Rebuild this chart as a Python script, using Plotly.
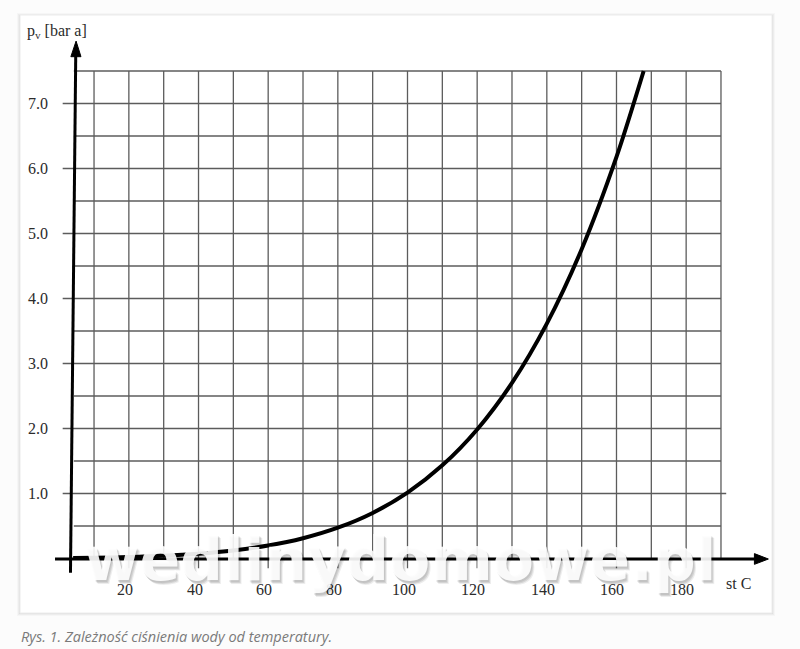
import plotly.graph_objects as go

# ---- data ----
temps = [4, 10, 20, 30, 40, 50, 60, 70, 80, 90, 100, 110, 120, 130, 140, 150, 160, 167.8]
pressure = [0.008, 0.012, 0.023, 0.042, 0.074, 0.123, 0.199, 0.312, 0.474, 0.701,
            1.013, 1.433, 1.985, 2.701, 3.613, 4.758, 6.178, 7.5]
x_tick_vals = [20, 40, 60, 80, 100, 120, 140, 160, 180]
x_tick_text = ["20", "40", "60", "80", "100", "120", "140", "160", "180"]
y_tick_vals = [1, 2, 3, 4, 5, 6, 7]
y_tick_text = ["1.0", "2.0", "3.0", "4.0", "5.0", "6.0", "7.0"]
grid_x = list(range(10, 200, 10))
grid_y = [i * 0.5 for i in range(1, 16)]
y_label = "p<sub>v</sub> [bar a]"
x_label = "st C"
watermark = "wedlinydomowe.pl"
caption = "Rys. 1. Zależność ciśnienia wody od temperatury."

# ---- layout geometry ----
W, H = 800, 649
ML, MR, MT, MB = 40, 25, 25, 51
XR = [-5.512, 205.51]
YR = [-0.6077, 8.2077]
PW, PH = W - ML - MR, H - MT - MB


def xp(px):
    return (px - ML) / PW


def yp(py):
    return (H - MB - py) / PH


GRID = "#5c5c5c"
FONT = "Liberation Serif"
TXT = "#2b2b2b"

fig = go.Figure()
fig.add_trace(go.Scatter(x=temps, y=pressure, mode="lines",
                         line=dict(color="black", width=4, shape="spline", smoothing=0.8),
                         hoverinfo="skip", showlegend=False))

shapes = []
# card with faint shadow
for d, c in [(3, "rgba(0,0,0,0.025)"), (2, "rgba(0,0,0,0.035)"), (1, "rgba(0,0,0,0.05)")]:
    shapes.append(dict(type="rect", xref="paper", yref="paper",
                       x0=xp(20 - d), x1=xp(772 + d), y0=yp(613 + d), y1=yp(15 - d + 1),
                       line=dict(width=0), fillcolor=c, layer="below"))
shapes.append(dict(type="rect", xref="paper", yref="paper",
                   x0=xp(20), x1=xp(772), y0=yp(613), y1=yp(15),
                   line=dict(width=1, color="#ececec"), fillcolor="white", layer="below"))

# horizontal grid
for v in grid_y:
    x0 = 1.0 if (abs(v - round(v)) < 1e-9 and 1 <= v <= 7) else 4.2
    x1 = 191.5 if v == 1 else 190
    shapes.append(dict(type="line", xref="x", yref="y", x0=x0, x1=x1, y0=v, y1=v,
                       line=dict(color=GRID, width=1.3), layer="below"))
# vertical grid
for t in grid_x:
    y0 = -0.15 if t in x_tick_vals else 0
    shapes.append(dict(type="line", xref="x", yref="y", x0=t, x1=t, y0=y0, y1=7.5,
                       line=dict(color=GRID, width=1.3), layer="below"))
# x axis with arrow
shapes.append(dict(type="line", xref="x", yref="y", x0=-1.2, x1=200.5, y0=-0.008, y1=-0.008,
                   line=dict(color="black", width=3)))
shapes.append(dict(type="path", xref="x", yref="y",
                   path="M 203.6,-0.008 L 199.6,0.075 L 199.6,-0.09 Z",
                   fillcolor="black", line=dict(color="black", width=1)))
# y axis with arrow (slightly slanted as in the scan)
shapes.append(dict(type="line", xref="x", yref="y", x0=3.24, x1=4.75, y0=-0.22, y1=7.75,
                   line=dict(color="black", width=3)))
shapes.append(dict(type="path", xref="x", yref="y",
                   path="M 4.85,7.96 L 3.35,7.72 L 6.25,7.72 Z",
                   fillcolor="black", line=dict(color="black", width=1)))

annotations = []
for v, t in zip(x_tick_vals, x_tick_text):
    annotations.append(dict(x=v, y=-0.48, xref="x", yref="y", text=t, showarrow=False,
                            xshift=-4, font=dict(family=FONT, size=16, color=TXT)))
for v, t in zip(y_tick_vals, y_tick_text):
    annotations.append(dict(x=-2.6, y=v, xref="x", yref="y", text=t, showarrow=False,
                            xanchor="right", font=dict(family=FONT, size=16, color=TXT)))
annotations.append(dict(x=xp(25), y=yp(31), xref="paper", yref="paper", text=y_label,
                        showarrow=False, xanchor="left", yanchor="middle",
                        font=dict(family=FONT, size=16, color=TXT)))
annotations.append(dict(x=xp(724), y=yp(583), xref="paper", yref="paper", text=x_label,
                        showarrow=False, xanchor="left", yanchor="middle",
                        font=dict(family=FONT, size=16, color=TXT)))
# watermark: soft shadow then white text
for dx, dy, a in [(3, -4, 0.07), (2, -3, 0.10), (1, -2, 0.08)]:
    annotations.append(dict(x=97.8, y=-0.01, xref="x", yref="y", text="<b>" + watermark + "</b>",
                            showarrow=False, xshift=dx, yshift=dy,
                            font=dict(family="DejaVu Sans", size=60, color=f"rgba(0,0,0,{a})")))
annotations.append(dict(x=97.8, y=-0.01, xref="x", yref="y", text="<b>" + watermark + "</b>",
                        showarrow=False,
                        font=dict(family="DejaVu Sans", size=60, color="rgba(255,255,255,0.9)")))
annotations.append(dict(x=xp(19), y=yp(636), xref="paper", yref="paper",
                        text="<i>" + caption + "</i>", showarrow=False,
                        xanchor="left", yanchor="middle",
                        font=dict(family="Open Sans", size=14.5, color="#7a7a7a")))

fig.update_layout(
    width=W, height=H,
    margin=dict(l=ML, r=MR, t=MT, b=MB, autoexpand=False),
    paper_bgcolor="#fcfcfc", plot_bgcolor="rgba(0,0,0,0)",
    xaxis=dict(range=XR, visible=False, fixedrange=True),
    yaxis=dict(range=YR, visible=False, fixedrange=True),
    shapes=shapes, annotations=annotations, showlegend=False,
)

fig.write_html("out.html", config={"displayModeBar": False},
               post_script="document.body.style.margin='0';")
